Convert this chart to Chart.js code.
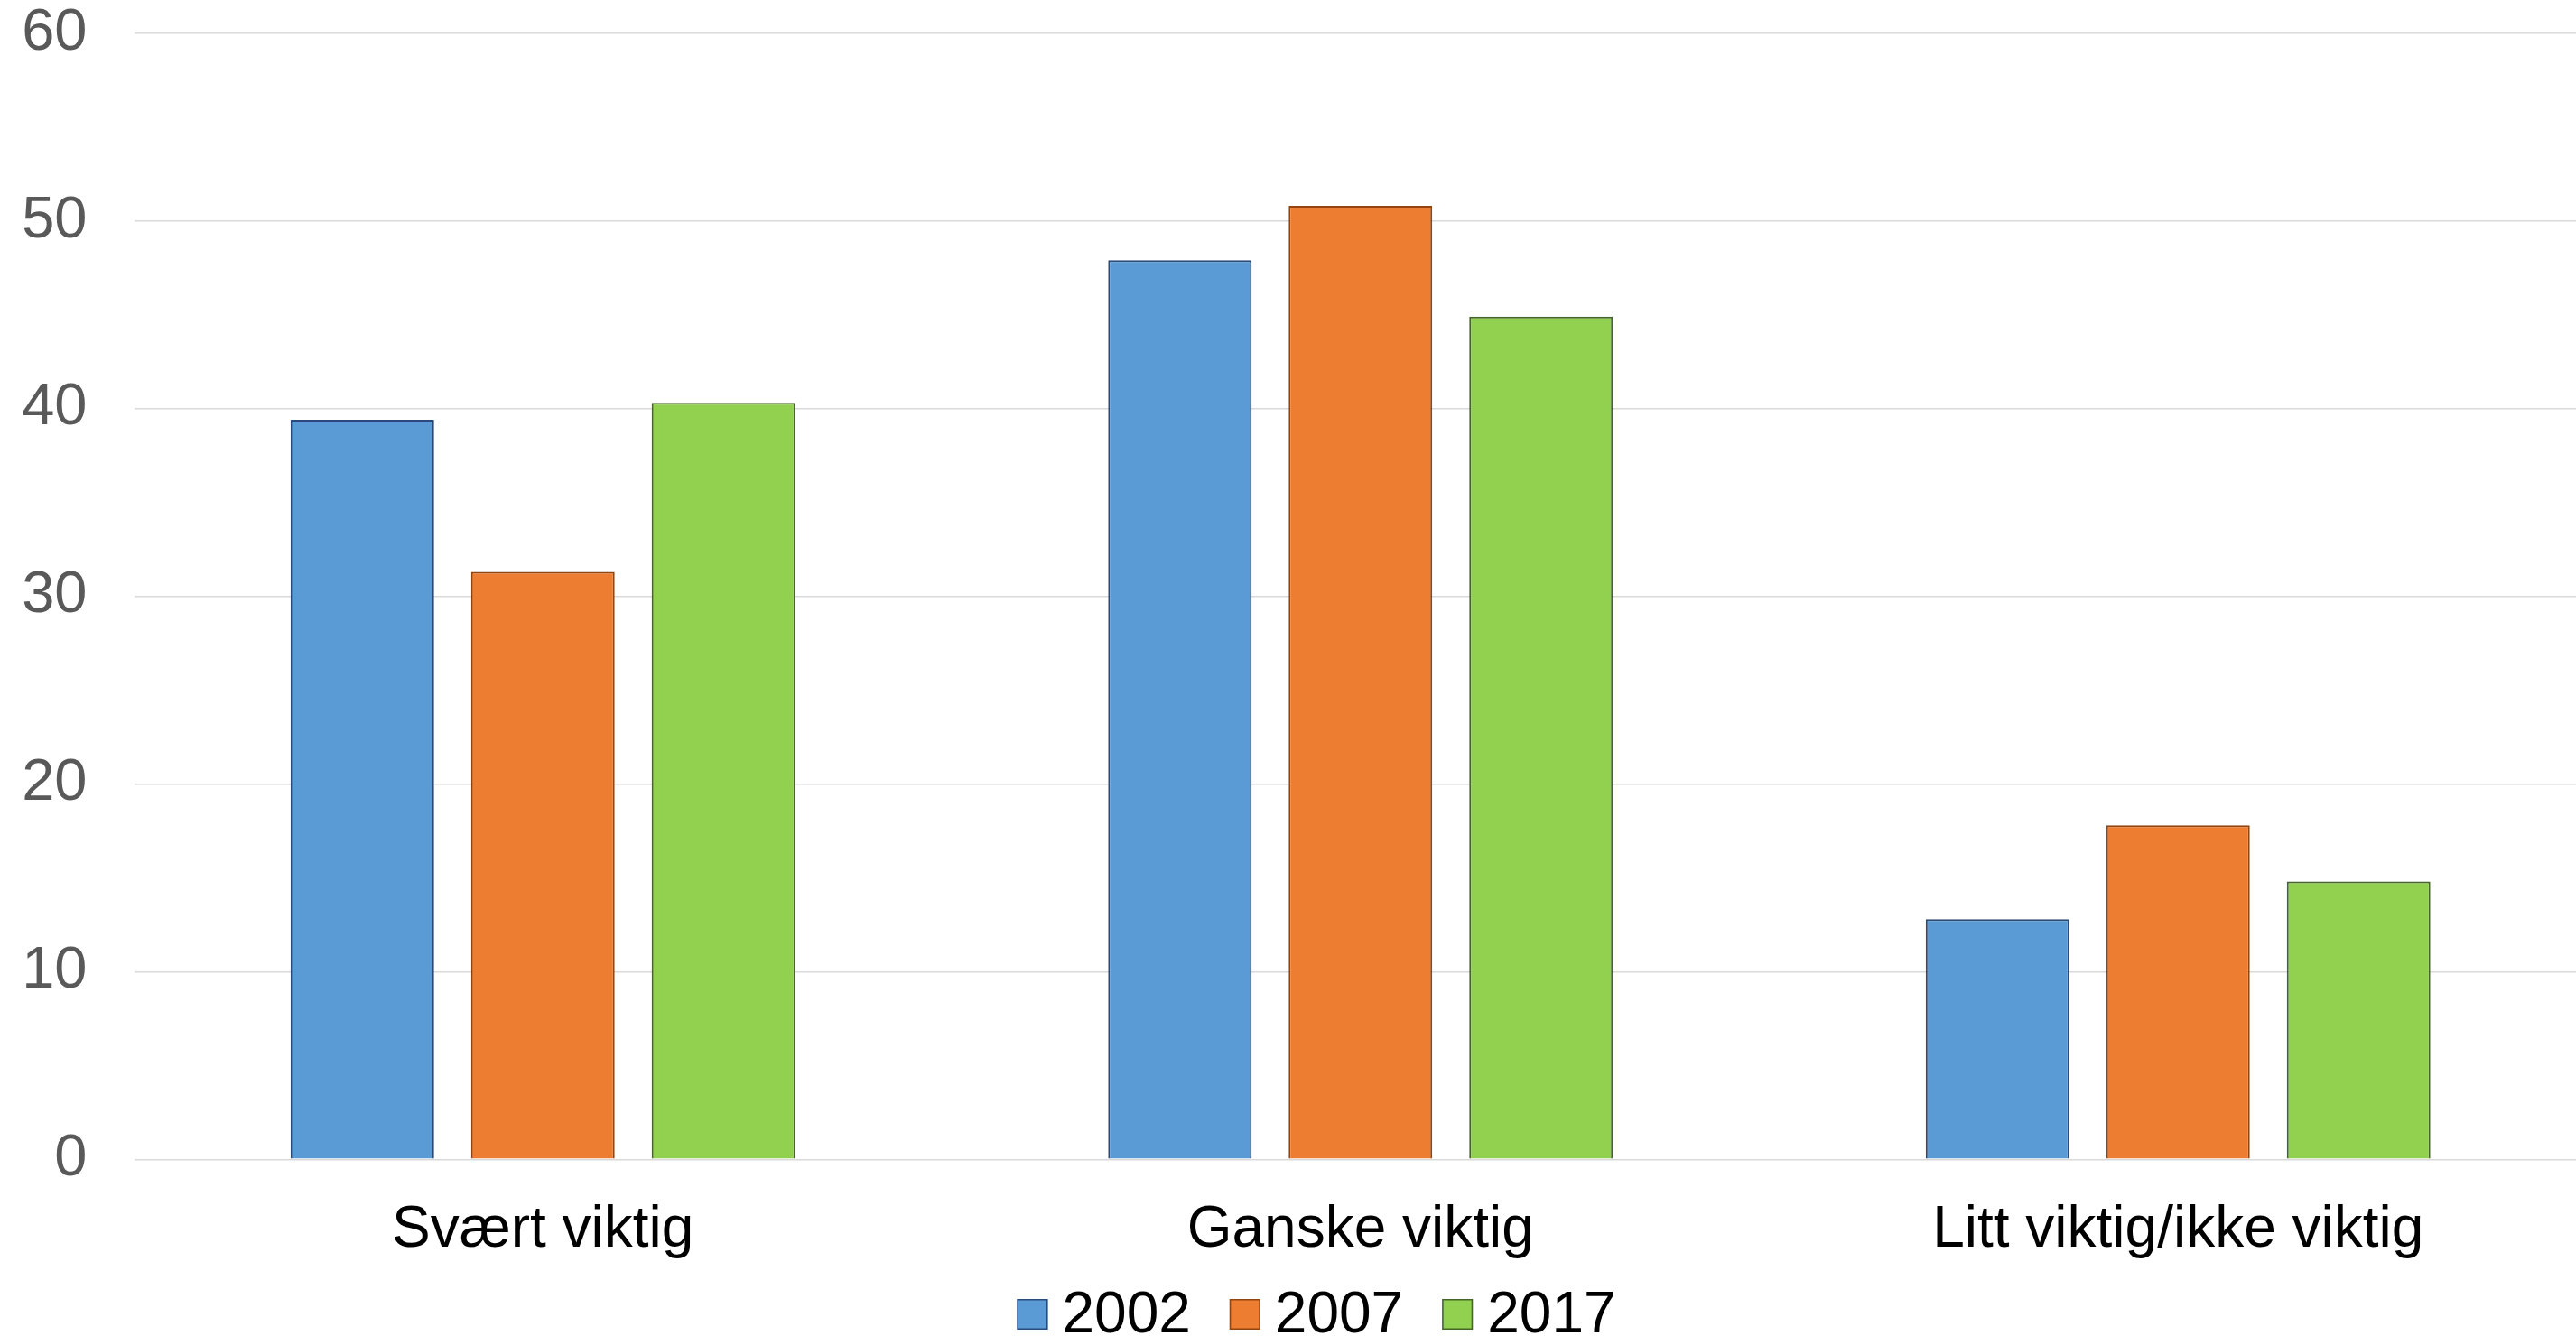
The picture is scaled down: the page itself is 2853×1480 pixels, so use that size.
<!DOCTYPE html>
<html>
<head>
<meta charset="utf-8">
<script src="https://cdn.jsdelivr.net/npm/chart.js@4/dist/chart.umd.min.js"></script>
<style>
  html, body { margin: 0; padding: 0; background: #ffffff; overflow: hidden; }
  #wrap { width: 2866px; height: 1480px; }
</style>
</head>
<body>
<div id="wrap"><canvas id="c" width="2866" height="1480"></canvas></div>
<script>
const categories = ['Svært viktig', 'Ganske viktig', 'Litt viktig/ikke viktig'];
const seriesNames = ['2002', '2007', '2017'];
const values2002 = [39.4, 47.9, 12.8];
const values2007 = [31.3, 50.8, 17.8];
const values2017 = [40.3, 44.9, 14.8];
const yTicks = [0, 10, 20, 30, 40, 50, 60];

const FONT = "'Liberation Sans', Arial, sans-serif";
const fills = ['#5b9bd5', '#ed7d31', '#92d050'];
const borders = ['#2a4a7a', '#934510', '#456628'];

const legendPlugin = {
  id: 'customLegend',
  afterDraw(chart) {
    const ctx = chart.ctx;
    ctx.save();
    ctx.font = '64px ' + FONT;
    ctx.textBaseline = 'alphabetic';
    ctx.textAlign = 'left';
    const box = 34, gapText = 16, gapItem = 43;
    const items = chart.data.datasets.map(d => ({
      label: d.label, fill: d.backgroundColor, stroke: d.borderColor,
      w: ctx.measureText(d.label).width
    }));
    let total = 0;
    items.forEach((it, i) => { total += box + gapText + it.w + (i < items.length - 1 ? gapItem : 0); });
    let x = 1458 - total / 2;
    const baseline = 1476;
    items.forEach(it => {
      ctx.fillStyle = it.fill;
      ctx.fillRect(x, 1439, box, box);
      ctx.strokeStyle = it.stroke;
      ctx.lineWidth = 1.5;
      ctx.strokeRect(x + 0.75, 1439.75, box - 1.5, box - 1.5);
      ctx.fillStyle = '#000000';
      ctx.fillText(it.label, x + box + gapText, baseline);
      x += box + gapText + it.w + gapItem;
    });
    ctx.restore();
  }
};

const datasetValues = [values2002, values2007, values2017];

new Chart(document.getElementById('c'), {
  type: 'bar',
  data: {
    labels: categories,
    datasets: seriesNames.map((name, i) => ({
      label: name,
      data: datasetValues[i],
      backgroundColor: fills[i],
      borderColor: borders[i],
      borderWidth: 2,
      borderSkipped: 'bottom',
      barPercentage: 0.795,
      categoryPercentage: 0.6625
    }))
  },
  options: {
    responsive: false,
    animation: false,
    devicePixelRatio: 1,
    layout: { padding: { top: 36.7, right: 1, bottom: 0, left: 0 } },
    plugins: {
      legend: { display: false },
      tooltip: { enabled: false }
    },
    scales: {
      x: {
        grid: { display: false, drawTicks: false },
        border: { display: false },
        ticks: {
          color: '#000000',
          font: { family: FONT, size: 64, lineHeight: 1.2 },
          padding: 41,
          maxRotation: 0,
          autoSkip: false
        },
        afterFit(scale) {
          scale.height = 1480 - 1284.3;
          scale.paddingLeft = 0; scale.paddingRight = 0;
        }
      },
      y: {
        min: 0,
        max: 60,
        afterBuildTicks(scale) { scale.ticks = yTicks.map(v => ({ value: v })); },
        grid: { color: '#d9d9d9', lineWidth: 1.5, drawTicks: false },
        border: { display: false },
        ticks: {
          color: '#595959',
          font: { family: FONT, size: 65, lineHeight: 1 },
          padding: 52
        },
        afterFit(scale) {
          scale.width = 148.5;
          scale.paddingTop = 0; scale.paddingBottom = 0;
        }
      }
    }
  },
  plugins: [legendPlugin]
});
</script>
</body>
</html>
